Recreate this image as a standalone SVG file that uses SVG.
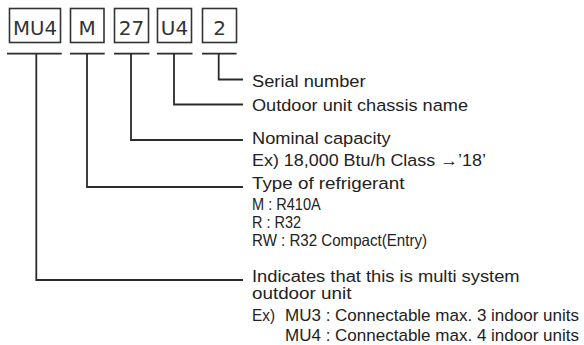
<svg xmlns="http://www.w3.org/2000/svg" width="584" height="345" viewBox="0 0 584 345">
<style>
.box{fill:#fff;stroke:#333;stroke-width:1.6}
.code{font-family:"DejaVu Sans",sans-serif;font-size:20px;fill:#333;text-anchor:middle}
.line{fill:none;stroke:#2b2b2b;stroke-width:1.8}
.d{font-family:"Liberation Sans",Arial,sans-serif;font-size:16.8px;fill:#222}
.s{font-family:"Liberation Sans",Arial,sans-serif;font-size:16.5px;fill:#222}
.t{font-family:"Liberation Sans",Arial,sans-serif;font-size:16px;fill:#222}
</style>
<rect width="584" height="345" fill="#fff"/>
<g id="code-MU4"><rect class="box" x="9.5" y="8.5" width="51" height="34"/><text class="code" x="35" y="35" textLength="44" lengthAdjust="spacingAndGlyphs">MU4</text></g>
<g id="code-M"><rect class="box" x="70.5" y="8.5" width="33.5" height="34"/><text class="code" x="87.2" y="35">M</text></g>
<g id="code-27"><rect class="box" x="114.5" y="8.5" width="34" height="34"/><text class="code" x="131.5" y="35">27</text></g>
<g id="code-U4"><rect class="box" x="157.5" y="8.5" width="34" height="34"/><text class="code" x="174.5" y="35">U4</text></g>
<g id="code-2"><rect class="box" x="202.5" y="8.5" width="34" height="34"/><text class="code" x="219.5" y="35">2</text></g>
<g id="connectors">
<path class="line" d="M7 53.7H61.7M70 53.7H104.7M114 53.7H149.5M157 53.7H192.5M202 53.7H236.6"/>
<path class="line" d="M218.7 53.7V79.5H243"/>
<path class="line" d="M174 53.7V104.5H243"/>
<path class="line" d="M131 53.7V140H243"/>
<path class="line" d="M87 53.7V187H243"/>
<path class="line" d="M36.3 53.7V280H243"/>
</g>
<g id="desc-serial"><text class="d" x="252" y="86.5" textLength="113.6" lengthAdjust="spacingAndGlyphs">Serial number</text></g>
<g id="desc-chassis"><text class="d" x="252" y="111.3" textLength="216" lengthAdjust="spacingAndGlyphs">Outdoor unit chassis name</text></g>
<g id="desc-capacity">
<text class="d" x="252" y="144" textLength="138.6" lengthAdjust="spacingAndGlyphs">Nominal capacity</text>
<text class="d" x="252" y="165.5" textLength="234" lengthAdjust="spacingAndGlyphs">Ex) 18,000 Btu/h Class →’18’</text>
</g>
<g id="desc-refrigerant">
<text class="d" x="252" y="189" textLength="152.5" lengthAdjust="spacingAndGlyphs">Type of refrigerant</text>
<text class="s" x="252" y="209.5" textLength="68.7" lengthAdjust="spacingAndGlyphs">M : R410A</text>
<text class="s" x="252" y="227.8" textLength="49" lengthAdjust="spacingAndGlyphs">R  : R32</text>
<text class="s" x="252" y="246.3" textLength="175" lengthAdjust="spacingAndGlyphs">RW : R32 Compact(Entry)</text>
</g>
<g id="desc-multi">
<text class="t" x="252" y="281.5" textLength="267.6" lengthAdjust="spacingAndGlyphs">Indicates that this is multi system</text>
<text class="t" x="252" y="299" textLength="99.4" lengthAdjust="spacingAndGlyphs">outdoor unit</text>
<text class="d" x="252" y="320.5" textLength="23" lengthAdjust="spacingAndGlyphs">Ex)</text>
<text class="d" x="285" y="320.5" textLength="294" lengthAdjust="spacingAndGlyphs">MU3 : Connectable max. 3 indoor units</text>
<text class="d" x="285" y="340.5" textLength="294" lengthAdjust="spacingAndGlyphs">MU4 : Connectable max. 4 indoor units</text>
</g>
</svg>
